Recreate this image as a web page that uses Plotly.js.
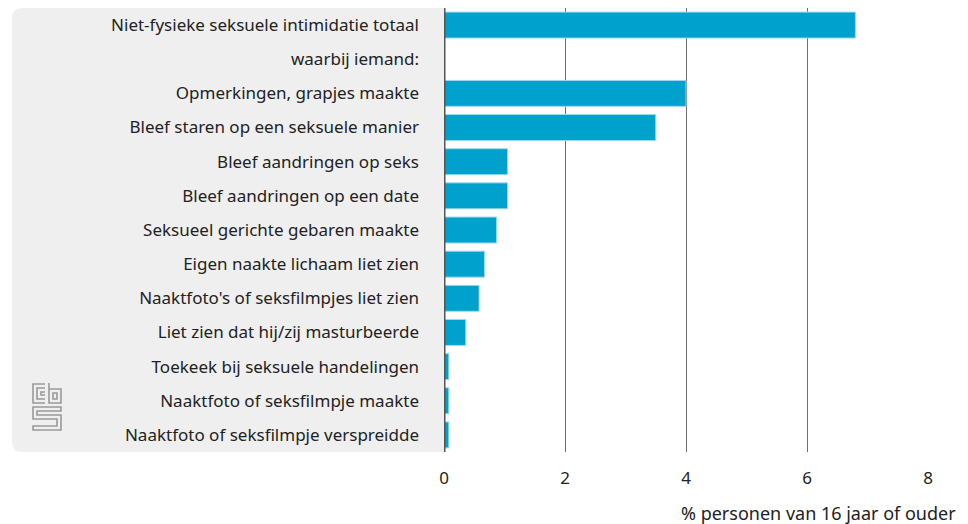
<!DOCTYPE html>
<html>
<head>
<meta charset="utf-8">
<script src="https://cdn.plot.ly/plotly-3.0.1.min.js"></script>
<style>
html,body{margin:0;padding:0;background:#fff;}
#chart{width:968px;height:524px;}
</style>
</head>
<body>
<div id="chart"></div>
<script>
// Data
const categories = [
  "Niet-fysieke seksuele intimidatie totaal",
  "waarbij iemand:",
  "Opmerkingen, grapjes maakte",
  "Bleef staren op een seksuele manier",
  "Bleef aandringen op seks",
  "Bleef aandringen op een date",
  "Seksueel gerichte gebaren maakte",
  "Eigen naakte lichaam liet zien",
  "Naaktfoto's of seksfilmpjes liet zien",
  "Liet zien dat hij/zij masturbeerde",
  "Toekeek bij seksuele handelingen",
  "Naaktfoto of seksfilmpje maakte",
  "Naaktfoto of seksfilmpje verspreidde"
];
const values = [6.8, null, 4.0, 3.5, 1.05, 1.05, 0.87, 0.67, 0.58, 0.36, 0.08, 0.08, 0.08];
const xTicks = [0, 2, 4, 6, 8];
const xTitle = "% personen van 16 jaar of ouder";

const W = 968, H = 524;
const L = 444, R = 928, T = 8, B = 452;
const pw = R - L, ph = B - T;
const px = v => (v - L) / pw;
const py = v => (B - v) / ph;

const x0 = px(12), rx = 10 / pw, ry = 10 / ph;
const panelPath = `M 0,1 L ${x0 + rx},1 Q ${x0},1 ${x0},${1 - ry} L ${x0},${ry} Q ${x0},0 ${x0 + rx},0 L 0,0 Z`;

const logoSvg = `<svg xmlns="http://www.w3.org/2000/svg" width="30" height="48" viewBox="0 0 30 48">
<g fill="none" stroke="#9a9a9a" stroke-width="1.6">
<path d="M13,1 H1 V20 H13"/>
<path d="M13,5 H5 V16 H13"/>
<path d="M13,9 H9 V12 H13"/>
<path d="M17,0 V20 H29 V6 H17"/>
<path d="M21,10 H25 V16 H21 Z"/>
<path d="M29,24 H1 V36 H25 V43 H1 V47 H29 V32 H5 V28 H29 Z"/>
</g></svg>`;
const logoUri = "data:image/svg+xml;charset=utf-8," + encodeURIComponent(logoSvg);

const trace = {
  type: "bar",
  orientation: "h",
  y: categories,
  x: values,
  marker: { color: "#00a1cd", line: { color: "#9fd8ec", width: 1 } },
  hoverinfo: "skip"
};

const layout = {
  width: W, height: H,
  margin: { l: L, r: W - R, t: T, b: H - B, pad: 0 },
  paper_bgcolor: "#ffffff",
  plot_bgcolor: "rgba(0,0,0,0)",
  font: { family: "Noto Sans, sans-serif", size: 17, color: "#222222" },
  showlegend: false,
  bargap: 0.24,
  xaxis: {
    range: [0, 8],
    tickvals: xTicks,
    ticktext: xTicks.map(String),
    showgrid: true,
    gridcolor: "#6e6e6e",
    gridwidth: 1,
    zeroline: false,
    showline: false,
    ticks: "",
    ticklabelstandoff: 14,
    tickfont: { size: 17, color: "#222222" },
    fixedrange: true
  },
  yaxis: {
    type: "category",
    categoryorder: "array",
    categoryarray: categories,
    autorange: "reversed",
    showgrid: false,
    zeroline: false,
    showline: false,
    ticks: "",
    ticklabelstandoff: 24,
    tickfont: { size: 17, color: "#222222" },
    fixedrange: true
  },
  shapes: [
    { type: "path", xref: "paper", yref: "paper", path: panelPath,
      fillcolor: "#efefef", line: { width: 0 }, layer: "below" },
    { type: "line", xref: "x", yref: "paper", x0: 0, x1: 0, y0: 0, y1: 1,
      line: { color: "#555555", width: 3 }, layer: "above" }
  ],
  images: [
    { source: logoUri, xref: "paper", yref: "paper",
      x: px(32), y: py(383), sizex: 30 / pw, sizey: 48 / ph,
      xanchor: "left", yanchor: "top", sizing: "stretch", layer: "above" }
  ],
  annotations: [
    { text: xTitle, xref: "paper", yref: "paper", x: px(958), y: py(513),
      xanchor: "right", yanchor: "middle", showarrow: false,
      font: { size: 18, color: "#222222" } }
  ]
};

Plotly.newPlot("chart", [trace], layout, { displayModeBar: false, staticPlot: true });
</script>
</body>
</html>
